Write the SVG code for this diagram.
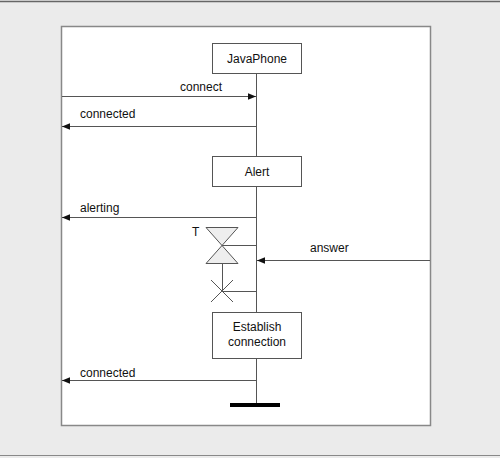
<svg xmlns="http://www.w3.org/2000/svg" width="500" height="458" viewBox="0 0 500 458">
<defs>
<style>
.t{font-family:"Liberation Sans",Arial,sans-serif;font-size:12px;fill:#111}
.box{fill:#fff;stroke:#555;stroke-width:1}
.ln{stroke:#555;stroke-width:1;fill:none}
</style>
<marker id="ah" viewBox="0 0 10 10" refX="10" refY="5" markerWidth="8" markerHeight="8" markerUnits="userSpaceOnUse" orient="auto">
<path d="M0,1 L10,5 L0,9 Z" fill="#111"/>
</marker>
</defs>
<rect x="0" y="0" width="500" height="458" fill="#ebebeb"/>
<line x1="0" y1="1.5" x2="500" y2="1.5" stroke="#666" stroke-width="1.5"/>
<line x1="0" y1="455.5" x2="500" y2="455.5" stroke="#888" stroke-width="1"/>
<rect x="61.5" y="26.5" width="369" height="399" fill="#fff" stroke="#888" stroke-width="1.5"/>
<g id="connectors">
<line class="ln" x1="256.5" y1="73" x2="256.5" y2="156"/>
<line class="ln" x1="256.5" y1="186" x2="256.5" y2="312"/>
<line class="ln" x1="256.5" y1="358" x2="256.5" y2="404"/>
<line class="ln" x1="62" y1="96.5" x2="256" y2="96.5" marker-end="url(#ah)"/>
<line class="ln" x1="256" y1="126.5" x2="62" y2="126.5" marker-end="url(#ah)"/>
<line class="ln" x1="256" y1="217.5" x2="62" y2="217.5" marker-end="url(#ah)"/>
<line class="ln" x1="430" y1="260.5" x2="257" y2="260.5" marker-end="url(#ah)"/>
<line class="ln" x1="256" y1="380.5" x2="62" y2="380.5" marker-end="url(#ah)"/>
<line class="ln" x1="222" y1="245.5" x2="256" y2="245.5"/>
<line class="ln" x1="222.5" y1="264" x2="222.5" y2="291"/>
<line class="ln" x1="222" y1="291.5" x2="256" y2="291.5"/>
</g>
<g id="JavaPhone"><rect class="box" x="212.5" y="43.5" width="89" height="30"/><text class="t" x="257" y="63" text-anchor="middle">JavaPhone</text></g>
<g id="Alert"><rect class="box" x="212.5" y="156.5" width="89" height="30"/><text class="t" x="257" y="176" text-anchor="middle">Alert</text></g>
<g id="Establish"><rect class="box" x="212.5" y="312.5" width="89" height="46"/><text class="t" x="257" y="331" text-anchor="middle">Establish</text><text class="t" x="257" y="346" text-anchor="middle">connection</text></g>
<g id="timer"><path d="M206,227.5 L238,227.5 L206,263.5 L238,263.5 Z" fill="#eee" stroke="#555" stroke-width="1"/><text class="t" x="192" y="236">T</text></g>
<g id="cross"><path d="M211,280 L233,302 M233,280 L211,302" stroke="#555" stroke-width="1"/></g>
<g id="end"><rect x="230" y="403" width="50" height="4" fill="#000"/></g>
<text class="t" x="180" y="91">connect</text>
<text class="t" x="80" y="118">connected</text>
<text class="t" x="80" y="212">alerting</text>
<text class="t" x="310" y="252">answer</text>
<text class="t" x="80" y="377">connected</text>
</svg>
